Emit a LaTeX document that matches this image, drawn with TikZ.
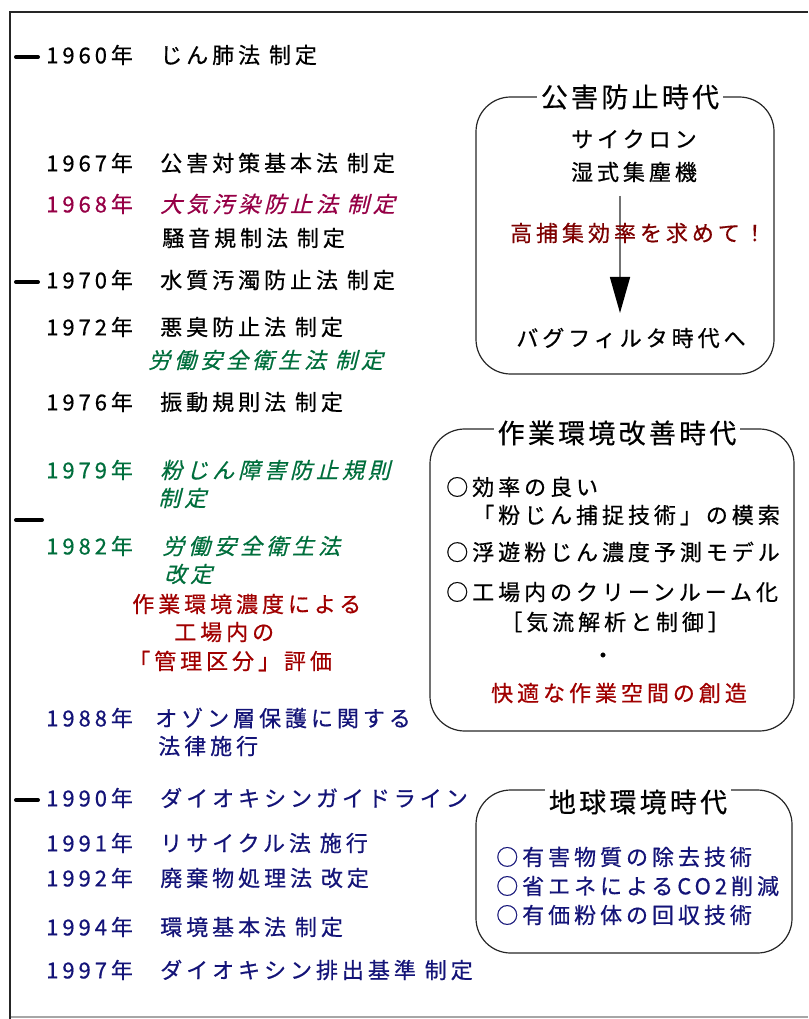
\documentclass[tikz,border=0pt]{standalone}
\usepackage{fontspec}
\usetikzlibrary{arrows.meta}
\newfontfamily\jp[LetterSpace=18,FakeBold=0.6]{Noto Sans CJK JP}
\newfontfamily\jpi[LetterSpace=18,FakeBold=0.6,FakeSlant=0.25]{Noto Sans CJK JP}
\newfontfamily\jpt[LetterSpace=12,FakeBold=0.4]{Noto Sans CJK JP}
\definecolor{crim}{RGB}{150,0,70}
\definecolor{grn}{RGB}{0,110,60}
\definecolor{dred}{RGB}{160,0,0}
\definecolor{mred}{RGB}{125,0,0}
\definecolor{navy}{RGB}{20,20,120}
\tikzset{
  txt/.style={anchor=west, inner sep=0pt, font=\jp\fontsize{16.5pt}{19pt}\selectfont},
  itx/.style={anchor=west, inner sep=0pt, font=\jpi\fontsize{16.5pt}{19pt}\selectfont},
  ctx/.style={inner sep=0pt, font=\jp\fontsize{16.5pt}{19pt}\selectfont},
  ttl/.style={fill=white, inner xsep=3pt, inner ysep=1pt, font=\jpt\fontsize{20.25pt}{23pt}\selectfont},
  era/.style={draw=black!85, line width=0.9pt, rounded corners=26pt},
  tick/.style={line width=3pt, line cap=round},
}
\begin{document}
\begin{tikzpicture}[x=0.75pt,y=-0.75pt]
\useasboundingbox (0,0) rectangle (808,1019);
% frame
\draw[black!35, line width=0.8pt] (10,1017) -- (808,1017);
\draw[black!85, line width=2pt] (10,1019) -- (10,12) -- (808,12);
% ticks
\draw[tick] (16,57) -- (38,57);
\draw[tick] (16,282) -- (38,282);
\draw[tick] (16,520) -- (42,520);
\draw[tick] (16,800) -- (38,800);
% timeline rows
\node[txt] (y60) at (46,55) {1960年};
\node[txt] (l60) at (160,55) {じん肺法 制定};
\node[txt] (y67) at (46,163) {1967年};
\node[txt] (l67) at (160,163) {公害対策基本法 制定};
\node[txt, text=crim] (y68) at (46,204) {1968年};
\node[itx, text=crim] (l68) at (160,204) {大気汚染防止法 制定};
\node[txt] (l68b) at (162,238) {騒音規制法 制定};
\node[txt] (y70) at (46,280) {1970年};
\node[txt] (l70) at (160,280) {水質汚濁防止法 制定};
\node[txt] (y72) at (46,327) {1972年};
\node[txt] (l72) at (160,327) {悪臭防止法 制定};
\node[itx, text=grn] (l72b) at (148,360) {労働安全衛生法 制定};
\node[txt] (y76) at (46,402) {1976年};
\node[txt] (l76) at (160,402) {振動規則法 制定};
\node[txt, text=grn] (y79) at (46,470) {1979年};
\node[itx, text=grn] (l79) at (160,470) {粉じん障害防止規則};
\node[itx, text=grn] (l79b) at (158,498) {制定};
\node[txt, text=grn] (y82) at (46,546) {1982年};
\node[itx, text=grn] (l82) at (162,546) {労働安全衛生法};
\node[itx, text=grn] (l82b) at (164,574) {改定};
\node[txt, text=dred] (k1) at (132,604) {作業環境濃度による};
\node[txt, text=dred] (k2) at (174,632) {工場内の};
\node[txt, text=dred] (k3) at (128,661) {「管理区分」評価};
\node[txt, text=navy] (y88) at (46,718) {1988年};
\node[txt, text=navy] (l88) at (155,718) {オゾン層保護に関する};
\node[txt, text=navy] (l88b) at (158,746) {法律施行};
\node[txt, text=navy] (y90) at (46,798) {1990年};
\node[txt, text=navy] (l90) at (160,798) {ダイオキシンガイドライン};
\node[txt, text=navy] (y91) at (46,843) {1991年};
\node[txt, text=navy] (l91) at (160,843) {リサイクル法 施行};
\node[txt, text=navy] (y92) at (46,878) {1992年};
\node[txt, text=navy] (l92) at (160,878) {廃棄物処理法 改定};
\node[txt, text=navy] (y94) at (46,927) {1994年};
\node[txt, text=navy] (l94) at (160,927) {環境基本法 制定};
\node[txt, text=navy] (y97) at (46,970) {1997年};
\node[txt, text=navy] (l97) at (160,970) {ダイオキシン排出基準 制定};
% era 1
\draw[era] (476,97) rectangle (774,374);
\node[ttl] (t1) at (630,97) {公害防止時代};
\node[ctx] (a1) at (634,139) {サイクロン};
\node[ctx] (a2) at (634,172) {湿式集塵機};
\coordinate (as) at (620,196);
\coordinate (ae) at (620,313);
\draw[black!55, line width=1.1pt, -{Triangle[length=27pt,width=15pt,color=black]}] (as) -- (ae);
\node[ctx, text=mred] (a3) at (638,233) {高捕集効率を求めて！};
\node[ctx] (a4) at (631,338) {バグフィルタ時代へ};
% era 2
\draw[era] (430,429) rectangle (794,731);
\node[ttl] (t2) at (617,433) {作業環境改善時代};
\node[txt] (b1) at (446,487) {○効率の良い};
\node[txt] (b2) at (472,515) {「粉じん捕捉技術」の模索};
\node[txt] (b3) at (446,552) {○浮遊粉じん濃度予測モデル};
\node[txt] (b4) at (446,592) {○工場内のクリーンルーム化};
\node[txt] (b5) at (500,622) {［気流解析と制御］};
\node[ctx] (b6) at (603,658) {・};
\node[ctx, text=dred] (b7) at (619,693) {快適な作業空間の創造};
% era 3
\draw[era] (476,790) rectangle (792,953);
\node[ttl] (t3) at (638,802) {地球環境時代};
\node[txt, text=navy] (c1) at (496,857) {○有害物質の除去技術};
\node[txt, text=navy] (c2) at (496,886) {○省エネによるCO2削減};
\node[txt, text=navy] (c3) at (496,915) {○有価粉体の回収技術};
\end{tikzpicture}
\end{document}
